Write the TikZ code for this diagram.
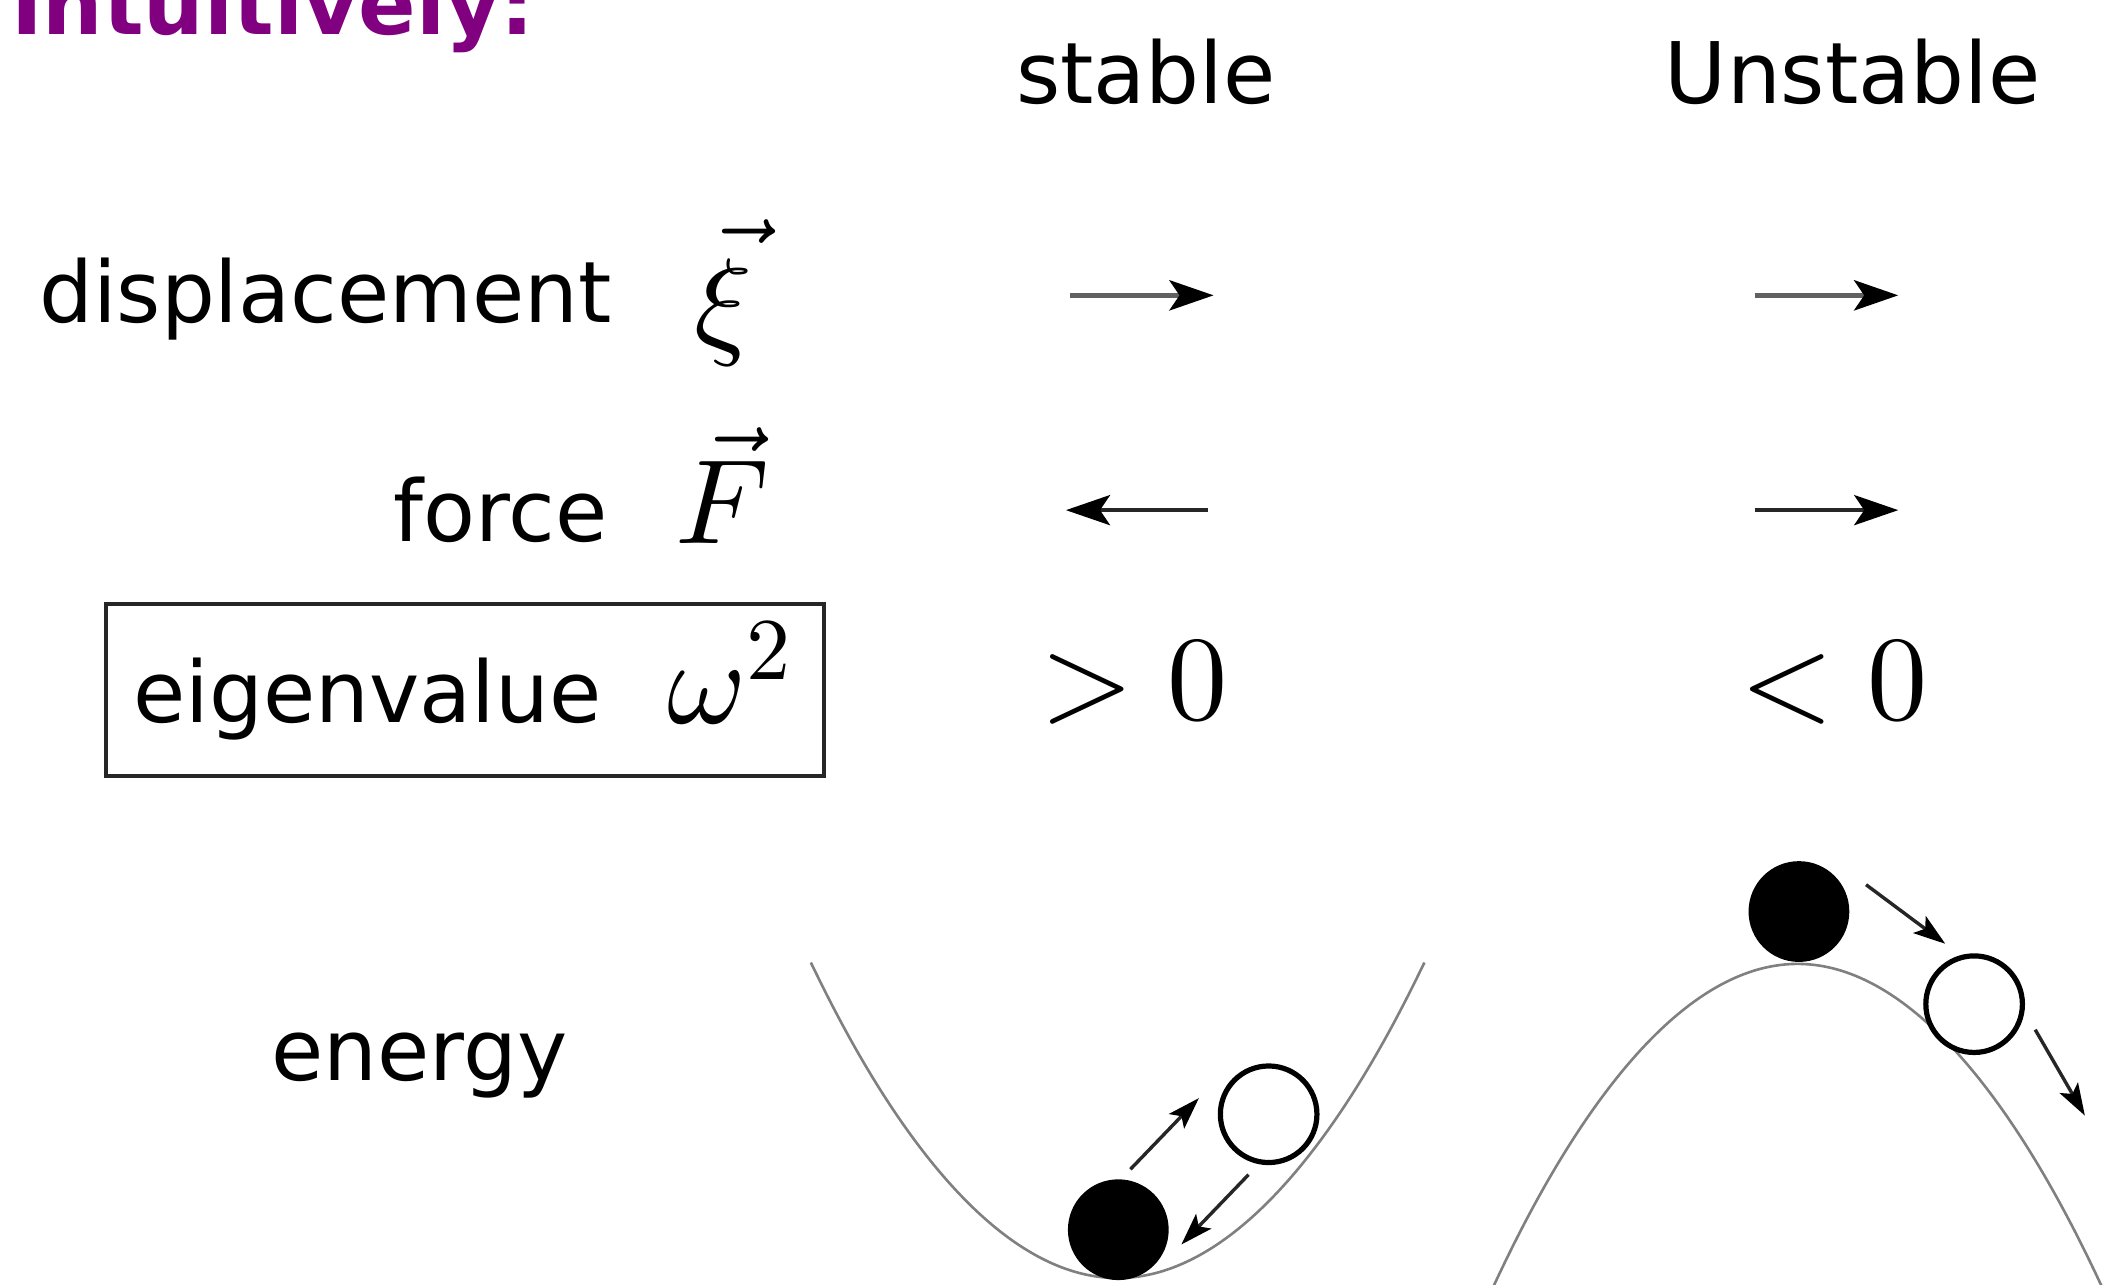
\documentclass[tikz,border=0pt]{standalone}
\usepackage[no-math]{fontspec}
\setmainfont{DejaVu Sans}
\DeclareFontShape{OT1}{cmr}{m}{n}{<->cmr10}{}
\DeclareFontShape{OML}{cmm}{m}{it}{<->cmmi10}{}
\DeclareFontShape{OMS}{cmsy}{m}{n}{<->cmsy10}{}
\DeclareMathSizes{60}{60}{44}{32}
\usetikzlibrary{arrows.meta}
\definecolor{titlepurple}{RGB}{128,0,128}
\begin{document}
\begin{tikzpicture}[x=0.67pt,y=-0.67pt,
  lbl/.style={inner sep=0pt, font=\fontsize{42.4}{50}\selectfont},
  mth/.style={inner sep=0pt, font=\fontsize{60}{70}\selectfont},
  disparrow/.style={line width=2.8pt, draw=black!62, -{Stealth[length=22pt,width=15pt,inset=5pt,color=black]}},
  forcearrow/.style={line width=2pt, draw=black!85, -{Stealth[length=22pt,width=15pt,inset=5pt,color=black]}},
  ballarrow/.style={line width=1.7pt, draw=black!85, -{Stealth[length=16pt,width=10.5pt,inset=3.5pt,color=black]}},
  curve/.style={line width=1.3pt, draw=black!50},
  fullball/.style={circle, fill=black, minimum size=50.3pt, inner sep=0pt},
  emptyball/.style={circle, draw=black, fill=white, line width=2.6pt, minimum size=48.2pt, inner sep=0pt},
  evframe/.style={draw=black!85, line width=2.2pt, minimum width=358.4pt, minimum height=85.8pt, inner sep=0pt}
]
\useasboundingbox (0,0) rectangle (1568,957);
\clip (0,0) rectangle (1568,957);

% title
\node[anchor=base west, inner sep=0pt, font=\bfseries\fontsize{42.4}{50}\selectfont, text=titlepurple] (title) at (8,26) {Intuitively:};

% column headers
\node[lbl, anchor=base] (hstable) at (853.5,77) {stable};
\node[lbl, anchor=base] (hunstable) at (1380,77) {Unstable};

% row labels
\node[lbl, anchor=base east] (ldisp) at (456,240) {displacement};
\node[mth, anchor=base west] (mxi) at (517,255) {$\skew{5}{\vec}{\xi\rule{0pt}{44pt}}$};
\node[lbl, anchor=base east] (lforce) at (453,403) {force};
\node[mth, anchor=base west] (mF) at (503,405) {$\vec{F}$};
\node[evframe] (evbox) at (346.5,514) {};
\node[lbl, anchor=base west] (leig) at (99,538) {eigenvalue};
\node[mth, anchor=base west] (momega) at (497,539) {$\omega^2$};
\node[lbl, anchor=base west] (lenergy) at (202,805) {energy};

% eigenvalue signs
\node[mth, anchor=base west] (gt) at (775,536) {$>0$};
\node[mth, anchor=base west] (lt) at (1296,536) {$<0$};

% displacement / force arrows
\coordinate (d1s) at (797,220); \coordinate (d1e) at (904,220);
\coordinate (d2s) at (1307,220); \coordinate (d2e) at (1414,220);
\coordinate (f1s) at (900,380); \coordinate (f1e) at (794,380);
\coordinate (f2s) at (1307,380); \coordinate (f2e) at (1414,380);
\draw[disparrow] (d1s) -- (d1e);
\draw[disparrow] (d2s) -- (d2e);
\draw[forcearrow] (f1s) -- (f1e);
\draw[forcearrow] (f2s) -- (f2e);

% energy curves
\draw[curve] (604,717) parabola bend (832.5,952) (1061,717);
\draw[curve] (1107,970) parabola bend (1339,718) (1571,970);

% stable balls
\node[fullball] (sfull) at (833,916) {};
\node[emptyball] (sempty) at (945,830) {};
\coordinate (sa1) at (842,871); \coordinate (sa1e) at (893,818);
\coordinate (sa2) at (930,875); \coordinate (sa2e) at (880,927);
\draw[ballarrow] (sa1) -- (sa1e);
\draw[ballarrow] (sa2) -- (sa2e);

% unstable balls
\node[fullball] (ufull) at (1340,679) {};
\node[emptyball] (uempty) at (1470.5,748) {};
\coordinate (ua1) at (1390,659); \coordinate (ua1e) at (1449,703);
\coordinate (ua2) at (1516,767); \coordinate (ua2e) at (1553,831);
\draw[ballarrow] (ua1) -- (ua1e);
\draw[ballarrow] (ua2) -- (ua2e);
\end{tikzpicture}
\end{document}
